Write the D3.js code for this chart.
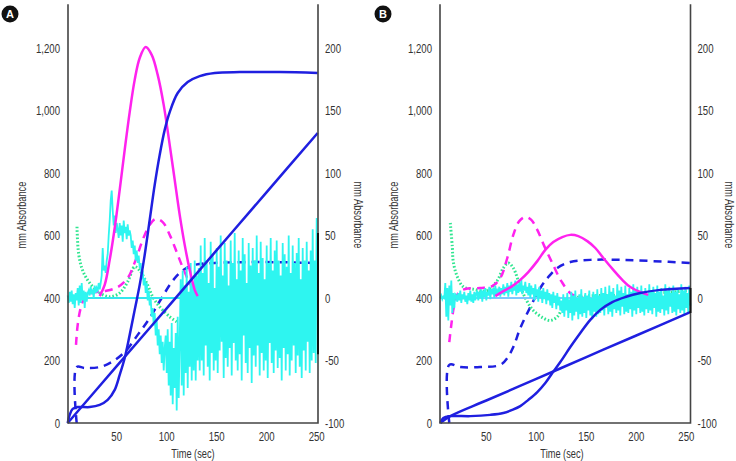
<!DOCTYPE html>
<html><head><meta charset="utf-8">
<script src="https://cdn.jsdelivr.net/npm/d3@7"></script>
<style>
body{margin:0;background:#fff;}
svg text{font-family:"Liberation Sans",Arial,sans-serif;fill:#333;}
</style></head>
<body><svg id="chart" width="736" height="461"></svg>
<script>
// ---------- tick labels ----------
const xTicks = [50, 100, 150, 200, 250];
const leftTicks = [0, 200, 400, 600, 800, 1000, 1200];
const rightTicks = [-100, -50, 0, 50, 100, 150, 200];

// ---------- Panel A data: [time (sec), mm Absorbance left axis] ----------
const aBlueSolid = [[1,0],[3,26],[6,45],[11,51],[23,51],[33,58],[41,74],[48,106],[53,154],[58,208],[63,282],[68,362],[73,442],[78,538],[83,650],[88,762],[93,858],[98,938],[103,995],[111,1056],[121,1091],[133,1110],[148,1120],[173,1123],[213,1123],[251,1120]];
const aBlueLinear = [[1,0],[50,182],[100,367],[150,553],[200,739],[251,928]];
const aBlueDashed = [[10,0],[10,179],[18,176],[33,179],[45,195],[58,227],[71,282],[83,336],[95,400],[105,451],[115,486],[128,506],[148,512],[193,515],[251,512]];
const aMagentaSolid = [[33,406],[38,442],[43,522],[48,624],[53,746],[58,874],[63,995],[68,1098],[73,1168],[79,1203],[85,1178],[91,1114],[97,1018],[103,890],[108,778],[113,666],[118,570],[123,490],[128,426],[131,406]];
const aMagentaDashed = [[9.3,250],[11,314],[14,368],[18,400],[25,416],[38,422],[51,435],[61,464],[69,522],[76,586],[83,634],[89,653],[96,643],[103,602],[110,547],[117,490],[124,442],[131,410]];
// right axis units
const aGreenDotted = [[10.3,57],[12,35],[16,22],[23,12],[33,4],[43,1],[53,4],[61,13],[68,25],[73,22],[80,12],[86,1],[93,-7],[103,-15],[110,-19]];
const aCyanStart = 1;   // first second of the noisy trace
const aCyan = [
 2,-4,5,-3,6,-5,3,-8,4,-2,
 8,-6,10,-4,12,-2,6,-8,5,-3,4,
 6,2,9,3,7,0,10,4,8,6,12,7,
 12,18,40,22,26,20,30,35,
 50,62,78,86,70,
 58,66,52,60,
 55,48,60,50,58,45,62,52,57,47,59,50,54,
 50,40,46,35,42,30,38,28,34,24,
 28,15,22,10,16,4,12,-2,6,-6,
 0,-15,-8,-22,-12,-30,-18,-38,-25,-45,-30,-52,-35,-58,-40,
 -30,-60,-25,-70,-35,-78,-20,-85,-40,-72,-28,-90,-15,-80,-35,
 15,-70,22,-78,10,-60,25,-72,5,-55,28,-66,12,-58,30,-66,18,-50,24,-58,
 42,-50,20,-62,48,-38,30,-55,12,-66,45,-44,35,-58,8,-50,40,
 -60,25,-42,50,-35,18,-64,44,-48,30,-55,10,-40,46,-62,28,-36,52,-50,15,
 -58,38,-45,22,-66,48,-30,35,-52,12,-60,44,-40,26,-68,40,-46,30,-55,50,
 -38,20,-62,45,-44,32,-58,15,-50,42,-64,28,-36,48,-52,22,-60,38,-42,46,
 -56,30,-48,18,-66,44,-40,35,-58,25,-45,50,-62,20,-50,42,-38,28,-60,36,
 -46,48,-55,15,-64,40,-42,30,-58,45,-35,22,-60,38,-50,55,-44,30,-52,64
];

// ---------- Panel B data ----------
const bBlueSolid = [[4,0],[7,16],[14,22],[34,22],[54,26],[67,32],[76,42],[84,54],[92,74],[101,99],[109,128],[116,160],[124,195],[134,243],[144,288],[154,330],[164,362],[176,387],[189,403],[204,416],[224,426],[254,432]];
const bBlueLinear = [[4,0],[14,22],[50,72],[100,141],[150,211],[200,280],[254,355]];
const bBlueDashed = [[13,0],[13,186],[24,179],[44,179],[64,186],[71,208],[77,243],[84,304],[94,371],[104,432],[112,467],[121,496],[134,515],[154,522],[184,522],[217,518],[254,512]];
const bMagentaSolid = [[59,406],[67,422],[76,438],[84,458],[92,483],[101,518],[109,554],[117,579],[126,595],[134,602],[142,598],[151,582],[159,560],[167,528],[177,490],[186,458],[194,435],[204,419],[212,410]];
const bMagentaDashed = [[13,259],[15,314],[18,378],[22,416],[29,429],[44,432],[56,438],[64,464],[71,528],[77,602],[83,646],[89,659],[95,650],[101,618],[108,566],[116,512],[125,454],[135,413],[147,400]];
const bGreenDotted = [[14,60],[16,41],[17,29],[21,17],[27,9],[37,7],[51,6],[61,14],[67,24],[72,28],[77,24],[84,9],[91,-3],[97,-10],[107,-16],[114,-18],[121,-15],[127,-7],[134,-2],[144,1],[164,2],[194,2],[224,4],[254,6]];
const bCyanStart = 4;
const bCyan = [
 0,2,-1,1,0,
 12,-15,8,-18,10,-6,14,-12,4,-8,3,
 2,-3,4,-2,6,-4,3,-1,5,-3,2,-5,4,-2,6,-3,3,-4,5,-2,4,
 6,-2,5,0,7,-3,6,1,8,-2,5,2,9,-1,7,3,8,0,10,2,6,4,9,1,
 8,3,11,2,9,4,12,1,10,5,13,3,9,6,14,2,11,4,12,5,15,3,10,6,13,4,
 9,2,12,0,10,3,8,-2,11,1,7,-3,9,0,6,-4,8,-1,5,-5,7,-2,4,-6,3,-8,5,-4,2,-9,4,-6,1,-10,
 -2,-12,3,-15,0,-10,4,-16,-1,-12,5,-18,2,-14,6,-11,0,-17,3,-13,7,-15,1,-12,4,-16,2,-10,6,-14,0,-17,5,-11,3,-15,7,-13,2,-12,
 8,-10,4,-14,9,-8,3,-13,10,-11,5,-15,8,-9,2,-12,11,-10,6,-14,9,-7,4,-13,10,-11,3,-12,8,-9,5,-15,11,-10,6,-13,9,-8,4,-12,
 10,-11,5,-14,8,-9,3,-12,11,-10,6,-13,9,-8,4,-15,10,-11,5,-12,8,-9,2,-14,11,-10,6,-13,9,-7,4,-12,10,-11,5,-14,8,-9,3,-12,11,-10,6,-13,9,-8,4,-12,10,-6
];

// ---------- drawing ----------
const svg = d3.select("#chart");
const C = {blue:"#1f1fe0", magenta:"#ff22ee", green:"#2fe690", cyan:"#2ef5f0", axis:"#444"};
const SX = 0.74; // condensed look

function label(g, x, y, str, anchor, size, rot) {
  g.append("text")
    .attr("transform", `translate(${x},${y})` + (rot ? ` rotate(${rot})` : "") + ` scale(${SX},1)`)
    .attr("text-anchor", anchor).attr("font-size", size).text(str);
}

const panels = [
 {label:"A", x0:68, x1:318, tDom:[1.3,251.3], badge:[10,14], leftTitleX:26, rightTitleX:354, timeX:193,
  blueSolid:aBlueSolid, blueLinear:aBlueLinear, blueDashed:aBlueDashed, magSolid:aMagentaSolid, magDashed:aMagentaDashed,
  green:aGreenDotted, cyan:aCyan, cyanStart:aCyanStart, darkSeg:[52,-45], baseColor:"#33e6ee"},
 {label:"B", x0:440, x1:690.5, tDom:[3.7,254.2], badge:[383,14], leftTitleX:398, rightTitleX:725, timeX:562,
  blueSolid:bBlueSolid, blueLinear:bBlueLinear, blueDashed:bBlueDashed, magSolid:bMagentaSolid, magDashed:bMagentaDashed,
  green:bGreenDotted, cyan:bCyan, cyanStart:bCyanStart, darkSeg:[8,-12], baseColor:"#7cc8ff"}
];

const yTop = 4.25, yBot = 423;
panels.forEach(p => {
  const x = d3.scaleLinear().domain(p.tDom).range([p.x0, p.x1]);
  const yL = d3.scaleLinear().domain([0, 1340]).range([yBot, yTop]);
  const yR = d3.scaleLinear().domain([-100, 235]).range([yBot, yTop]);
  const g = svg.append("g");
  const lineL = d3.line().x(d=>x(d[0])).y(d=>yL(d[1])).curve(d3.curveCatmullRom.alpha(0.5));
  const lineR = d3.line().x(d=>x(d[0])).y(d=>yR(d[1])).curve(d3.curveCatmullRom.alpha(0.5));
  const lineLin = d3.line().x(d=>x(d[0])).y(d=>yR(d[1]));

  // series (back to front)
  g.append("path").attr("d", lineL(p.blueDashed)).attr("fill","none").attr("stroke",C.blue).attr("stroke-width",2.5).attr("stroke-dasharray","8,6");
  g.append("path").attr("d", lineR(p.green)).attr("fill","none").attr("stroke",C.green).attr("stroke-width",3).attr("stroke-dasharray","1.6,2");
  g.append("path").attr("d", lineL(p.magDashed)).attr("fill","none").attr("stroke",C.magenta).attr("stroke-width",2.5).attr("stroke-dasharray","8,6");
  g.append("path").attr("d", lineLin([[p.tDom[0],0],[p.tDom[1],0]])).attr("stroke",p.baseColor).attr("stroke-width",2);
  const cy = p.cyan.map((v,i)=>[p.cyanStart+i, v]);
  g.append("path").attr("d", lineLin(cy)).attr("fill","none").attr("stroke",C.cyan).attr("stroke-width",1.8);
  g.append("path").attr("d", lineL(p.magSolid)).attr("fill","none").attr("stroke",C.magenta).attr("stroke-width",2.5);
  g.append("path").attr("d", lineL(p.blueLinear)).attr("fill","none").attr("stroke",C.blue).attr("stroke-width",2.5);
  g.append("path").attr("d", lineL(p.blueSolid)).attr("fill","none").attr("stroke",C.blue).attr("stroke-width",2.5);

  // axis frame
  g.append("path").attr("d",`M${p.x0},${yTop}V${yBot}H${p.x1}V${yTop}`).attr("fill","none").attr("stroke",C.axis).attr("stroke-width",1.6);
  g.append("line").attr("x1",p.x1).attr("x2",p.x1).attr("y1",yR(p.darkSeg[0])).attr("y2",yR(p.darkSeg[1])).attr("stroke","#111").attr("stroke-width",2);

  // tick labels
  leftTicks.forEach(d => label(g, p.x0-8, yL(d)+4.6, d3.format(",")(d), "end", 13));
  rightTicks.forEach(d => label(g, p.x1+7, yR(d)+4.6, String(d), "start", 13));
  xTicks.forEach(d => label(g, x(d), 441, String(d), "middle", 13));
  label(g, p.timeX, 458, "Time (sec)", "middle", 12.5);
  label(g, p.leftTitleX, 215, "mm Absorbance", "middle", 12.5, -90);
  label(g, p.rightTitleX, 215, "mm Absorbance", "middle", 12.5, 90);

  // panel badge
  g.append("circle").attr("cx",p.badge[0]).attr("cy",p.badge[1]).attr("r",8.5).attr("fill","#111");
  g.append("text").attr("x",p.badge[0]).attr("y",p.badge[1]+4).attr("text-anchor","middle").attr("font-size",11)
    .attr("font-weight","bold").style("fill","#fff").text(p.label);
});
</script>
</body></html>
